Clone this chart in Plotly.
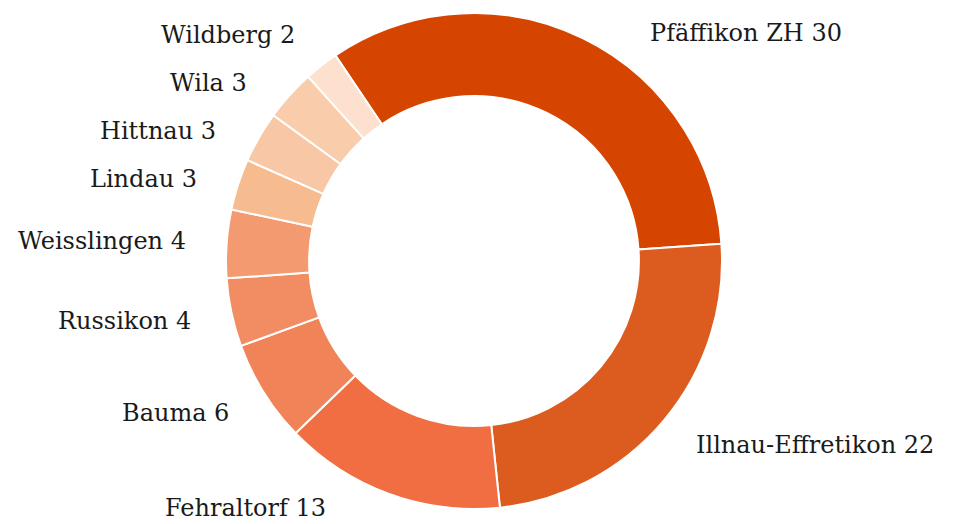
import math
import plotly.graph_objects as go

labels = ["Pfäffikon ZH", "Illnau-Effretikon", "Fehraltorf", "Bauma", "Russikon",
          "Weisslingen", "Lindau", "Hittnau", "Wila", "Wildberg"]
values = [30, 22, 13, 6, 4, 4, 3, 3, 3, 2]
colors = ["#d64500", "#dc5c1f", "#f06e42", "#f08458", "#f28c63",
          "#f49a70", "#f6bb8f", "#f8c8a6", "#f9ccab", "#fde0cd"]

W, H = 962, 524
ROTATION = -34              # start angle (deg, clockwise from 12 o'clock)
CX, CY, R = 466, 253, 248   # pie centre / radius in px
LABEL_R = 287
Y_MIN, Y_MAX = 25, 500
GAP = 48

fig = go.Figure(go.Pie(
    labels=labels, values=values, sort=False, direction="clockwise",
    rotation=ROTATION, hole=0.665,
    marker=dict(colors=colors, line=dict(color="white", width=2)),
    textinfo="none", hoverinfo="label+value",
    domain=dict(x=[0, (2 * CX) / W],
                y=[(H - CY - R) / H, (H - CY + R) / H]),
    showlegend=False,
))

# label placement: on a circle around the donut, spread apart vertically
total = sum(values)
cum = 0
items = []
for lab, v in zip(labels, values):
    mid = math.radians(ROTATION + (cum + v / 2) / total * 360)
    cum += v
    items.append(dict(text=f"{lab} {v}", right=math.sin(mid) >= 0,
                      y=CY - LABEL_R * math.cos(mid)))

for side in (True, False):
    grp = sorted([it for it in items if it["right"] == side], key=lambda d: d["y"])
    prev = None
    for it in grp:
        it["y"] = max(it["y"], Y_MIN)
        if prev is not None:
            it["y"] = max(it["y"], prev["y"] + GAP)
        prev = it
    nxt = None
    for it in reversed(grp):
        it["y"] = min(it["y"], Y_MAX)
        if nxt is not None:
            it["y"] = min(it["y"], nxt["y"] - GAP)
        nxt = it

annotations = []
for it in items:
    dx = math.sqrt(max(LABEL_R ** 2 - (it["y"] - CY) ** 2, 0))
    x = CX + dx if it["right"] else CX - dx
    annotations.append(dict(
        x=x / W, y=1 - it["y"] / H, xref="paper", yref="paper",
        text=it["text"], showarrow=False,
        xanchor="left" if it["right"] else "right", yanchor="middle",
        font=dict(family="DejaVu Serif", size=24, color="#1a1a1a"),
    ))

fig.update_layout(width=W, height=H, margin=dict(l=0, r=0, t=0, b=0),
                  paper_bgcolor="white", plot_bgcolor="white",
                  annotations=annotations)
fig.write_html("out.html")
